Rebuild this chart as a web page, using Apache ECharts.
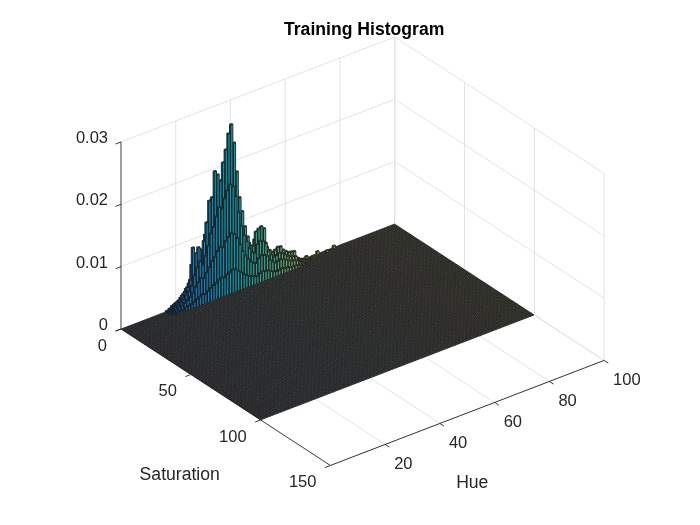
<!DOCTYPE html>
<html>
<head>
<meta charset="utf-8">
<script src="https://cdn.jsdelivr.net/npm/echarts@6.0.0/dist/echarts.min.js"></script>
<style>
html,body{margin:0;padding:0;background:#fff;}
#main{width:700px;height:525px;}
</style>
</head>
<body>
<div id="main"></div>
<script>
// axis ranges and ticks
var hueRange = [0, 100];
var satRange = [0, 150];
var zRange = [0, 0.03];
var hueTicks = [20, 40, 60, 80, 100];
var satTicks = [0, 50, 100, 150];
var zTicks = [0, 0.01, 0.02, 0.03];
var zTickLabels = ['0', '0.01', '0.02', '0.03'];
var hueBins = 100, satBins = 100;   // histogram is 100 x 100 bins, mostly empty

// non-empty bins: one list per saturation bin, starting at hue bin 16
var ridgeFirstHue = 16;
var satBin0 = [0.0002,0.0004,0.0007,0.0009,0.0011,0.0015,0.0019,0.0026,0.0033,0.0061,
               0.0072,0.0068,0.0081,0.0077,0.0101,0.0118,0.0136,0.0152,0.0171,0.0175,
               0.0169,0.0196,0.0203,0.0218,0.0212,0.0164,0.0131,0.0097,0.0083,0.0069,
               0.0061,0.0052,0.0063,0.0071,0.0066,0.0069,0.0051,0.0034,0.0029,0.0031,
               0.0033,0.0030,0.0027,0.0023,0.0021,0.0018,0.0017,0.0008,0.0006,0.0003,0.0002];
var satBin1 = [0.0003,0.0006,0.0010,0.0012,0.0014,0.0020,0.0024,0.0030,0.0040,0.0090,
               0.0079,0.0087,0.0062,0.0094,0.0122,0.0155,0.0159,0.0199,0.0192,0.0181,
               0.0208,0.0227,0.0251,0.0264,0.0233,0.0185,0.0142,0.0118,0.0092,0.0074,
               0.0058,0.0056,0.0077,0.0080,0.0082,0.0077,0.0046,0.0039,0.0034,0.0036,
               0.0039,0.0038,0.0031,0.0027,0.0024,0.0023,0.0022,0.0009,0.0005,0.0004,0.0002];
var satBin2 = [0.0002,0.0005,0.0008,0.0010,0.0012,0.0016,0.0021,0.0025,0.0032,0.0047,
               0.0058,0.0066,0.0059,0.0072,0.0086,0.0104,0.0113,0.0128,0.0141,0.0137,
               0.0152,0.0163,0.0171,0.0166,0.0149,0.0122,0.0098,0.0081,0.0070,0.0057,
               0.0049,0.0046,0.0058,0.0062,0.0060,0.0055,0.0041,0.0033,0.0028,0.0029,
               0.0031,0.0029,0.0025,0.0021,0.0019,0.0017,0.0015,0.0007,0.0004,0.0003,0.0001];
var satBin3 = [0.0001,0.0003,0.0005,0.0007,0.0008,0.0011,0.0014,0.0017,0.0022,0.0030,
               0.0036,0.0041,0.0039,0.0046,0.0053,0.0061,0.0066,0.0074,0.0079,0.0077,
               0.0085,0.0090,0.0094,0.0091,0.0083,0.0071,0.0059,0.0050,0.0043,0.0037,
               0.0033,0.0031,0.0037,0.0040,0.0039,0.0036,0.0028,0.0023,0.0020,0.0021,
               0.0022,0.0020,0.0018,0.0015,0.0013,0.0012,0.0010,0.0005,0.0003,0.0002,0.0001];
var satBin4 = [0,0.0001,0.0002,0.0003,0.0003,0.0005,0.0006,0.0007,0.0009,0.0012,
               0.0014,0.0016,0.0015,0.0018,0.0021,0.0024,0.0026,0.0029,0.0031,0.0030,
               0.0033,0.0035,0.0037,0.0036,0.0032,0.0028,0.0023,0.0020,0.0017,0.0015,
               0.0013,0.0012,0.0015,0.0016,0.0015,0.0014,0.0011,0.0009,0.0008,0.0008,
               0.0009,0.0008,0.0007,0.0006,0.0005,0.0005,0.0004,0.0002,0.0001,0.0001,0];
// a few isolated small bins: [hue bin, saturation bin, value]
var specks = [[67,0,0.0004],[69,1,0.0003],[71,0,0.0005],[74,1,0.0003],[77,0,0.0004],[80,1,0.0002]];

var satRows = [satBin0, satBin1, satBin2, satBin3, satBin4];

// parula colormap
var parulaStops = ['#352a87','#0363e1','#1485d4','#06a7c6','#38b99e','#92bf73','#d9ba56','#fcce2e','#f9fb0e'];
function hexRgb(h) {
    return [parseInt(h.slice(1,3),16), parseInt(h.slice(3,5),16), parseInt(h.slice(5,7),16)];
}
var parulaRgb = parulaStops.map(hexRgb);
// mix = share of the colormap colour, the rest is the edge grey
function parula(t, mix) {
    t = Math.max(0, Math.min(1, t));
    var p = t * (parulaRgb.length - 1);
    var k = Math.min(Math.floor(p), parulaRgb.length - 2), f = p - k;
    var a = parulaRgb[k], b = parulaRgb[k + 1];
    return 'rgb(' + [0,1,2].map(function (c) {
        var v = a[c] + (b[c] - a[c]) * f;
        return Math.round(v * mix + 38 * (1 - mix));
    }).join(',') + ')';
}

// 3d view (az -37.5, el 30, y reversed) projected onto a plain 2d value grid
var AZ = 37.5 * Math.PI / 180, EL = 30 * Math.PI / 180;
var boxLen = [345, 344, 216];
var origin = [121, 329];   // where hue 0 / sat 0 / z 0 sits on the page
function proj(h, s, z) {
    var X = (h - hueRange[0]) / (hueRange[1] - hueRange[0]) * boxLen[0];
    var Y = (s - satRange[0]) / (satRange[1] - satRange[0]) * boxLen[1];
    var Z = (z - zRange[0]) / (zRange[1] - zRange[0]) * boxLen[2];
    return [X * Math.cos(AZ) + Y * Math.sin(AZ),
            (X * Math.sin(AZ) - Y * Math.cos(AZ)) * Math.sin(EL) + Z * Math.cos(EL)];
}
var uMax = proj(hueRange[1], satRange[1], 0)[0];
var vMin = proj(hueRange[0], satRange[1], 0)[1];
var vMax = proj(hueRange[1], satRange[0], zRange[1])[1];

function binValue(i, j) {
    var row = satRows[j];
    var v = 0;
    if (row && i >= ridgeFirstHue && i - ridgeFirstHue < row.length) v = row[i - ridgeFirstHue];
    specks.forEach(function (sp) { if (sp[0] === i && sp[1] === j) v = sp[2]; });
    return v;
}

// bins in painter order: far saturation rows first, high hue first
var cells = [];
for (var j = 0; j < satBins; j++) {
    for (var i = hueBins - 1; i >= 0; i--) {
        cells.push([i, j, binValue(i, j)]);
    }
}

// grid line segments on the three back planes
var gridSegs = [];
hueTicks.forEach(function (h) {
    gridSegs.push([h, satRange[0], zRange[0], h, satRange[0], zRange[1]]);
    gridSegs.push([h, satRange[0], zRange[0], h, satRange[1], zRange[0]]);
});
satTicks.forEach(function (s) {
    gridSegs.push([hueRange[1], s, zRange[0], hueRange[1], s, zRange[1]]);
    gridSegs.push([hueRange[0], s, zRange[0], hueRange[1], s, zRange[0]]);
});
zTicks.forEach(function (z) {
    gridSegs.push([hueRange[0], satRange[0], z, hueRange[1], satRange[0], z]);
    gridSegs.push([hueRange[1], satRange[0], z, hueRange[1], satRange[1], z]);
});

var font = '"Liberation Sans", Arial, Helvetica, sans-serif';
var axisColor = '#262626';

var myChart = echarts.init(document.getElementById('main'));
var option = {
    animation: false,
    backgroundColor: '#fff',
    title: {
        text: 'Training Histogram',
        left: 279,
        top: 16,
        textStyle: { fontSize: 17.6, fontWeight: 'bold', color: '#000', fontFamily: font }
    },
    grid: {
        left: origin[0],
        top: origin[1] - vMax,
        width: uMax,
        height: vMax - vMin
    },
    xAxis: { type: 'value', min: 0, max: uMax, show: false },
    yAxis: { type: 'value', min: vMin, max: vMax, show: false },
    series: [
        {
            // back plane grid
            type: 'custom',
            silent: true,
            clip: false,
            z: 1,
            data: gridSegs,
            renderItem: function (params, api) {
                var a = api.coord(proj(api.value(0), api.value(1), api.value(2)));
                var b = api.coord(proj(api.value(3), api.value(4), api.value(5)));
                return {
                    type: 'line',
                    shape: { x1: a[0], y1: a[1], x2: b[0], y2: b[1] },
                    style: { stroke: '#dcdcdc', lineWidth: 0.8 }
                };
            }
        },
        {
            // bar3 histogram
            type: 'custom',
            silent: true,
            clip: false,
            progressive: 0,
            z: 2,
            data: cells,
            renderItem: function (params, api) {
                var i = api.value(0), j = api.value(1), val = api.value(2);
                var h0 = i + 0.1, h1 = i + 0.9, s0 = j + 0.1, s1 = j + 0.9;
                function P(h, s, z) { return api.coord(proj(h, s, z)); }
                var base = params.dataIndex * 3;
                var st = val > 0
                    ? { fill: parula(i / (hueBins - 1), 0.88), stroke: '#1c1c1c', lineWidth: 0.9 }
                    : { fill: parula(i / (hueBins - 1), 0.16), stroke: '#242424', lineWidth: 0.9 };
                var children = [];
                if (val > 0) {
                    children.push({ type: 'polygon', z2: base,
                        shape: { points: [P(h0,s0,0), P(h0,s1,0), P(h0,s1,val), P(h0,s0,val)] }, style: st });
                    children.push({ type: 'polygon', z2: base + 1,
                        shape: { points: [P(h0,s1,0), P(h1,s1,0), P(h1,s1,val), P(h0,s1,val)] }, style: st });
                }
                children.push({ type: 'polygon', z2: base + 2,
                    shape: { points: [P(h0,s0,val), P(h1,s0,val), P(h1,s1,val), P(h0,s1,val)] }, style: st });
                return { type: 'group', children: children };
            }
        },
        {
            // axes, ticks and labels
            type: 'custom',
            silent: true,
            clip: false,
            z: 3,
            data: [0],
            renderItem: function (params, api) {
                function P(h, s, z) { return api.coord(proj(h, s, z)); }
                function seg(a, b) {
                    return { type: 'line', shape: { x1: a[0], y1: a[1], x2: b[0], y2: b[1] },
                             style: { stroke: axisColor, lineWidth: 0.9 } };
                }
                function txt(p, text, size, align) {
                    return { type: 'text', x: p[0], y: p[1],
                             style: { text: text, fill: axisColor, fontSize: size, fontFamily: font,
                                      align: align, verticalAlign: 'middle' } };
                }
                var els = [];
                var h0 = hueRange[0], h1 = hueRange[1], s0 = satRange[0], s1 = satRange[1];
                els.push(seg(P(h0, s0, zRange[0]), P(h0, s0, zRange[1])));
                els.push(seg(P(h0, s0, zRange[0]), P(h0, s1, zRange[0])));
                els.push(seg(P(h0, s1, zRange[0]), P(h1, s1, zRange[0])));
                zTicks.forEach(function (z, k) {
                    var p = P(h0, s0, z);
                    els.push(seg(p, P(h0 - 2, s0, z)));
                    els.push(txt([p[0] - 13, p[1] - 3.5], zTickLabels[k], 16.5, 'right'));
                });
                satTicks.forEach(function (s) {
                    var p = P(h0, s, zRange[0]);
                    els.push(seg(p, P(h0 - 2, s, zRange[0])));
                    els.push(txt([p[0] - 14, p[1] + 17], String(s), 16.5, 'right'));
                });
                hueTicks.forEach(function (h) {
                    var p = P(h, s1, zRange[0]);
                    els.push(seg(p, P(h, s1 + 3, zRange[0])));
                    els.push(txt([p[0] + 9, p[1] + 20], String(h), 16.5, 'left'));
                });
                var ps = P(h0, (s0 + s1) / 2, zRange[0]);
                els.push(txt([ps[0] - 46, ps[1] + 78], 'Saturation', 17.6, 'center'));
                var ph = P((h0 + h1) / 2, s1, zRange[0]);
                els.push(txt([ph[0] + 5, ph[1] + 70], 'Hue', 17.6, 'center'));
                return { type: 'group', children: els };
            }
        }
    ]
};
myChart.setOption(option);
</script>
</body>
</html>
